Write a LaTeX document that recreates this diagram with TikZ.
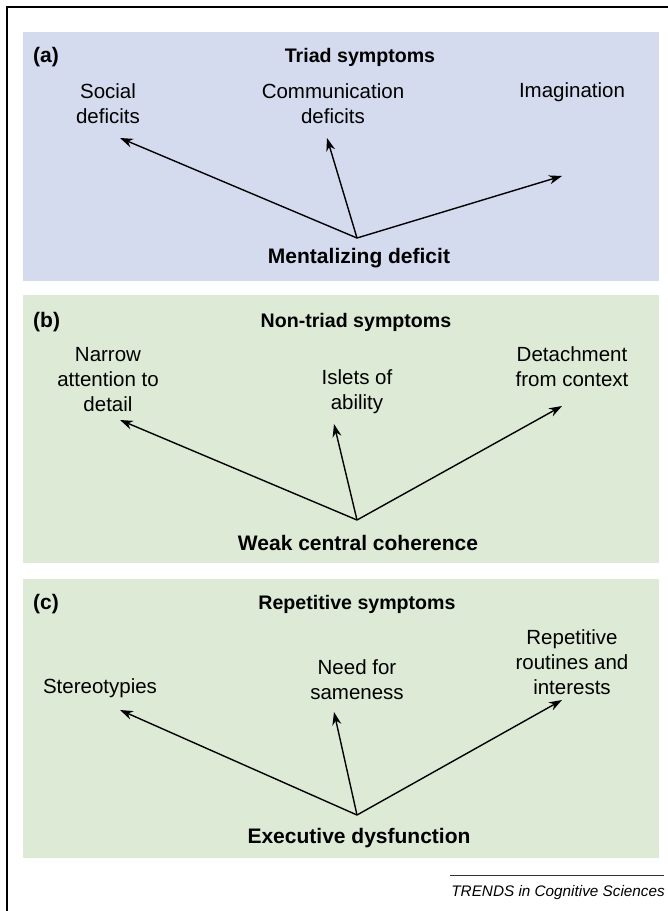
\documentclass[tikz,border=0pt]{standalone}
\usepackage{fontspec}
\setmainfont{Liberation Sans}
\usetikzlibrary{arrows.meta}
\definecolor{panelA}{HTML}{D5DBEE}
\definecolor{panelB}{HTML}{DDEAD6}
\begin{document}
\begin{tikzpicture}[x=1pt,y=-1pt,
  lbl/.style={align=center,font=\fontsize{20.5}{25}\selectfont,inner sep=0pt},
  ttl/.style={font=\fontsize{19.6}{22}\selectfont\bfseries,inner sep=0pt},
  src/.style={font=\fontsize{21}{24}\selectfont\bfseries,inner sep=0pt},
  tag/.style={font=\fontsize{21}{24}\selectfont\bfseries,inner sep=0pt},
  arr/.style={line width=1.4pt,-{Stealth[length=13pt,width=9pt]}}]
\useasboundingbox (0,0) rectangle (668,911);
% frame
\draw[line width=1.5pt] (7,911) -- (7,7) -- (668,7);
% panels
\fill[panelA] (23,32) rectangle (659,281);
\fill[panelB] (23,295) rectangle (659,563);
\fill[panelB] (23,579) rectangle (659,858);
% panel a
\node[tag,anchor=west] (ta) at (33,57) {(a)};
\node[ttl] (Ta) at (360,57) {Triad symptoms};
\node[lbl] (a1) at (108,104) {Social\\deficits};
\node[lbl] (a2) at (333,104) {Communication\\deficits};
\node[lbl] (a3) at (572,92) {Imagination};
\node[src] (a0) at (359,258) {Mentalizing deficit};
\coordinate (pa) at (357,238);
\coordinate (ea1) at (120,138);
\coordinate (ea2) at (327,138);
\coordinate (ea3) at (562,176);
\draw[arr] (pa) -- (ea1);
\draw[arr] (pa) -- (ea2);
\draw[arr] (pa) -- (ea3);
% panel b
\node[tag,anchor=west] (tb) at (33,322) {(b)};
\node[ttl] (Tb) at (356,322) {Non-triad symptoms};
\node[lbl] (b1) at (108,380) {Narrow\\attention to\\detail};
\node[lbl] (b2) at (357,392) {Islets of\\ability};
\node[lbl] (b3) at (572,367) {Detachment\\from context};
\node[src] (b0) at (358,543) {Weak central coherence};
\coordinate (pb) at (357,520);
\coordinate (eb1) at (120,420);
\coordinate (eb2) at (334,424);
\coordinate (eb3) at (562,406);
\draw[arr] (pb) -- (eb1);
\draw[arr] (pb) -- (eb2);
\draw[arr] (pb) -- (eb3);
% panel c
\node[tag,anchor=west] (tc) at (33,604) {(c)};
\node[ttl] (Tc) at (357,604) {Repetitive symptoms};
\node[lbl] (c1) at (100,688) {Stereotypies};
\node[lbl] (c2) at (357,680) {Need for\\sameness};
\node[lbl] (c3) at (572,662) {Repetitive\\routines and\\interests};
\node[src] (c0) at (359,838) {Executive dysfunction};
\coordinate (pc) at (357,815);
\coordinate (ec1) at (120,710);
\coordinate (ec2) at (334,712);
\coordinate (ec3) at (562,700);
\draw[arr] (pc) -- (ec1);
\draw[arr] (pc) -- (ec2);
\draw[arr] (pc) -- (ec3);
% footer
\coordinate (f1) at (450,875);
\coordinate (f2) at (664,875);
\draw[line width=1pt,black!80] (f1) -- (f2);
\node[anchor=east,font=\fontsize{15.3}{18}\selectfont\itshape,inner sep=0pt] (foot) at (665,893) {TRENDS in Cognitive Sciences};
\end{tikzpicture}
\end{document}
